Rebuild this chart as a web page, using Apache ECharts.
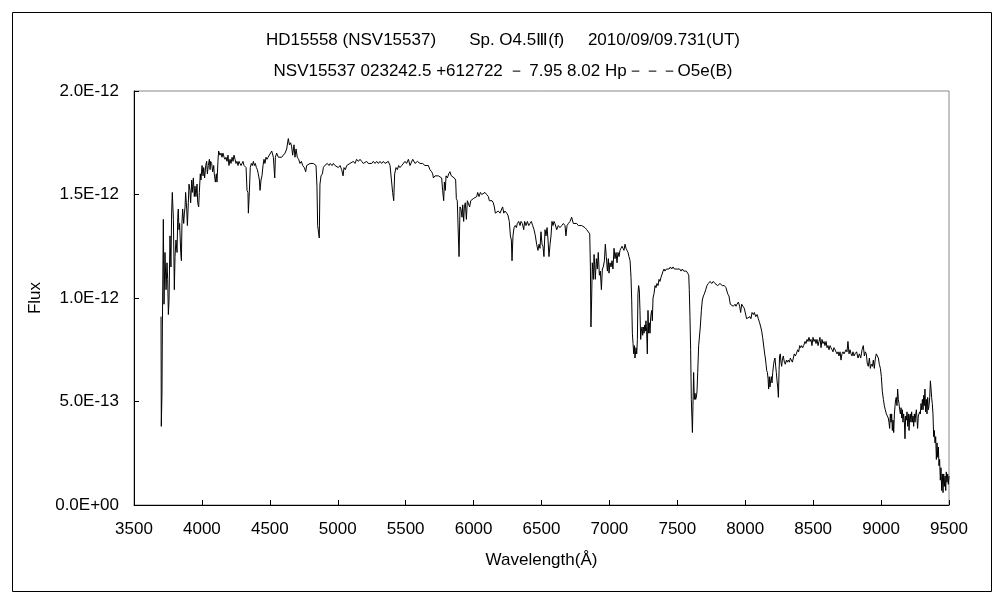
<!DOCTYPE html>
<html><head><meta charset="utf-8">
<script src="https://cdn.jsdelivr.net/npm/echarts@6/dist/echarts.min.js"></script>
<style>html,body{margin:0;padding:0;background:#fff}#c{width:1000px;height:600px}</style>
</head><body><div id="c"></div>
<script>
const titleLine1 = "HD15558 (NSV15537)       Sp. O4.5Ⅲ(f)     2010/09/09.731(UT)";
const titleLine2 = "NSV15537 023242.5 +612722 － 7.95 8.02 Hp－－－O5e(B)";
const xAxisName = "Wavelength(Å)";
const yAxisName = "Flux";
const xTicks = [3500,4000,4500,5000,5500,6000,6500,7000,7500,8000,8500,9000,9500];
const yTicks = [0, 0.5, 1.0, 1.5, 2.0]; // in units of 1E-12

// Wavelength (Å)
const wavelength = [
3699,3701,3706,3709,3716,3721,3728,3736,3743,3748,3753,3758,3765,3772,3777,3782,3790,3797,3802,3809,3817,3822,3826,3831,3836,3844,3849,3853,3858,3866,3871,3876,3880,3888,3893,3900,3905,3912,3917,3925,3929,3937,3944,3949,3956,3964,3969,3976,3981,3988,3993,4001,4008,4013,4020,4028,4035,4040,4047,4055,4060,4064,4072,4079,4087,4091,4099,4106,4111,4118,4123,4133,4141,4148,4155,4163,4170,4177,4185,4192,4199,4207,4214,4222,4229,4236,4244,4251,4258,4266,4273,4280,4288,4295,4302,4310,4317,4325,4332,4339,4342,4349,4356,4364,4371,4379,4386,4393,4401,4408,4415,4423,4428,4435,4442,4450,4457,4464,4472,4479,4487,4494,
4501,4514,4526,4536,4541,4550,4563,4575,4587,4599,4612,4624,4636,4644,4653,4661,4668,4678,4685,4693,4702,4712,4722,4732,4742,4754,4764,4771,4783,4796,4808,4820,4833,4840,4847,4852,4860,4864,4869,4877,4887,4894,4904,4914,4923,4936,4945,4958,4968,4980,4992,5004,5017,5029,5039,5046,5056,5066,5078,5090,5102,5115,5127,5139,5152,5164,5176,5188,5201,5213,5225,5237,5250,5262,5274,5287,5299,5311,5323,5336,5348,5360,5372,5385,5397,5404,5412,5419,5429,5439,5448,5458,5471,5483,5495,5507,5520,
5532,5552,5569,5586,5606,5625,5642,5655,5667,5679,5691,5699,5704,5716,5728,5741,5753,5765,5772,5780,5785,5792,5797,5807,5817,5826,5836,5846,5858,5868,5873,5880,5888,5893,5900,5907,5915,5920,5927,5932,5939,5947,5954,5964,5971,5979,5988,5998,6010,6023,6030,6040,6050,6060,6072,6084,6096,6109,6116,6126,6136,6145,6153,6160,6170,6182,6195,6207,6214,6222,6231,6244,6253,6263,6271,6278,6283,6290,6298,6307,6315,6322,6332,6342,6349,6359,6369,6376,6386,6396,6406,6415,6425,6435,6445,6455,6464,6474,6482,6489,6496,6504,6511,6518,6526,6533,6541,6548,6555,6563,6570,6577,6585,6592,
6599,6612,6624,6636,6649,6661,6673,6680,6688,6698,6710,6722,6734,6747,6759,6771,6783,6796,6808,6820,6833,6845,6855,6860,6864,6869,6874,6882,6887,6891,6896,6904,6911,6918,6926,6933,6941,6948,6955,6963,6970,6977,6985,6992,6997,7004,7012,7019,7026,7034,7041,7049,7056,7063,7071,7078,7085,7093,7100,7107,7115,7122,7130,7137,7144,7152,7159,7164,7169,7174,7179,7184,7188,7196,7201,7206,7210,7215,7220,7225,7230,7235,7240,7245,7250,7255,7260,7264,7269,7274,7279,7284,7289,7294,7299,7304,7311,7316,7321,7328,7336,7343,7350,7358,7365,7372,7380,7387,7395,7402,7409,7419,7429,7439,7449,7458,7468,7478,7488,7498,7507,7517,7527,7537,7547,7557,7566,7576,7584,7588,7593,7598,7603,7608,7611,7615,7620,7625,7630,7635,7640,7645,7650,7657,7662,7669,7677,7684,7692,7699,7709,7718,7728,7741,7753,7765,
7777,7797,7814,7831,7846,7858,7871,7880,7890,7900,7912,7925,7932,7939,7949,7959,7966,7974,7983,7993,8003,8010,8023,8035,8042,8050,8060,8067,8077,8087,8096,8106,8114,8121,8128,8136,8143,8148,8153,8158,8163,8168,8172,8177,8182,8187,8192,8197,8202,8209,8214,8219,8224,8229,8234,8239,8244,8249,8253,8258,8263,8268,8273,8280,8288,8295,8303,8310,8317,8325,8332,8339,8347,8354,8361,8369,8376,8386,8393,8401,8408,8415,8423,8430,8440,8447,8455,8462,8469,8477,8484,8491,8499,8506,8514,8521,8528,8536,8543,8550,8558,8565,8572,8580,8587,8595,8602,8609,8617,8624,8631,8639,8646,8653,8661,8668,8676,8683,8690,8698,8705,8712,8720,8727,8734,8742,8749,8756,8764,8771,8779,8786,8793,8801,
8808,8820,8830,8840,8850,8860,8869,8877,8884,8891,8899,8906,8914,8921,8928,8936,8943,8950,8958,8965,8972,8980,8987,8995,9002,9009,9017,9024,9031,9039,9046,9053,9058,9063,9068,9073,9078,9083,9088,9093,9098,9103,9107,9112,9117,9122,9127,9132,9137,9142,9147,9152,9157,9161,9166,9171,9176,9181,9186,9191,9196,9201,9206,9211,9215,9220,9225,9230,9235,9240,9245,9250,9255,9260,9264,9269,9274,9279,9284,9289,9294,9299,9304,9309,9314,9318,9323,9328,9333,9338,9343,9348,9353,9358,9363,9368,9372,9377,9382,9387,9392,9397,9402,9407,9412,9417,9422,9426,9431,9436,9441,9446,9451,9456,9461,9466,9471,9476,9480,9485,9490,9495,9500
];

// Flux in units of 1E-12
const flux = [
0.91,0.38,0.54,0.86,1.38,0.97,1.22,1.04,1.17,1.09,0.92,0.99,1.30,1.15,1.41,1.51,1.38,1.04,1.20,1.28,1.22,1.39,1.43,1.33,1.36,1.22,1.18,1.36,1.43,1.36,1.41,1.44,1.51,1.43,1.35,1.46,1.55,1.52,1.46,1.57,1.51,1.58,1.49,1.54,1.49,1.55,1.46,1.44,1.51,1.60,1.57,1.64,1.59,1.63,1.58,1.64,1.66,1.60,1.64,1.67,1.62,1.66,1.65,1.61,1.64,1.60,1.56,1.60,1.56,1.66,1.71,1.69,1.70,1.68,1.70,1.68,1.67,1.68,1.66,1.69,1.64,1.67,1.65,1.68,1.66,1.69,1.67,1.65,1.66,1.64,1.66,1.65,1.64,1.65,1.66,1.64,1.64,1.63,1.52,1.51,1.41,1.51,1.63,1.65,1.64,1.66,1.64,1.65,1.63,1.62,1.60,1.57,1.52,1.57,1.59,1.64,1.67,1.65,1.68,1.67,1.68,1.68,
1.68,1.71,1.68,1.58,1.68,1.70,1.68,1.68,1.68,1.68,1.70,1.72,1.77,1.74,1.75,1.73,1.69,1.74,1.68,1.72,1.68,1.67,1.65,1.66,1.64,1.63,1.61,1.64,1.64,1.65,1.65,1.65,1.65,1.64,1.54,1.35,1.35,1.29,1.55,1.59,1.60,1.63,1.64,1.64,1.65,1.64,1.65,1.64,1.65,1.64,1.64,1.63,1.64,1.62,1.59,1.63,1.62,1.64,1.64,1.65,1.65,1.66,1.65,1.67,1.66,1.67,1.66,1.65,1.65,1.66,1.65,1.65,1.65,1.66,1.65,1.66,1.65,1.66,1.65,1.66,1.65,1.65,1.66,1.64,1.64,1.51,1.47,1.60,1.63,1.62,1.64,1.63,1.64,1.64,1.66,1.65,1.67,
1.64,1.67,1.65,1.66,1.65,1.65,1.64,1.64,1.64,1.62,1.61,1.60,1.58,1.59,1.59,1.59,1.59,1.58,1.52,1.47,1.56,1.52,1.59,1.58,1.60,1.61,1.59,1.59,1.58,1.57,1.48,1.47,1.30,1.20,1.44,1.43,1.39,1.45,1.37,1.44,1.46,1.38,1.47,1.47,1.44,1.47,1.47,1.48,1.48,1.49,1.51,1.49,1.51,1.50,1.50,1.51,1.50,1.49,1.47,1.47,1.47,1.46,1.44,1.41,1.41,1.42,1.41,1.43,1.44,1.41,1.42,1.41,1.40,1.37,1.30,1.28,1.18,1.30,1.34,1.35,1.34,1.36,1.37,1.35,1.37,1.36,1.33,1.37,1.35,1.37,1.35,1.36,1.37,1.35,1.33,1.30,1.26,1.23,1.26,1.24,1.32,1.26,1.25,1.20,1.33,1.30,1.34,1.28,1.20,1.26,1.30,1.37,1.35,1.37,
1.36,1.33,1.35,1.34,1.35,1.36,1.35,1.30,1.35,1.36,1.37,1.39,1.36,1.36,1.36,1.35,1.35,1.35,1.35,1.34,1.33,1.33,1.31,1.15,0.86,0.99,1.17,1.09,1.21,1.16,1.09,1.19,1.14,1.22,1.11,1.13,1.04,1.14,1.15,1.18,1.26,1.20,1.13,1.19,1.12,1.17,1.15,1.18,1.14,1.24,1.19,1.22,1.17,1.22,1.20,1.23,1.24,1.25,1.24,1.23,1.26,1.24,1.23,1.22,1.20,1.18,1.10,0.99,0.83,0.78,0.73,0.77,0.71,0.76,0.73,0.80,1.02,1.06,1.04,0.94,0.80,0.84,0.86,0.82,0.86,0.83,0.87,0.84,0.89,0.84,0.73,0.94,0.83,0.88,0.83,0.91,0.94,0.89,1.00,1.02,1.06,1.05,1.07,1.06,1.09,1.08,1.10,1.10,1.13,1.14,1.13,1.14,1.14,1.14,1.15,1.14,1.15,1.14,1.14,1.14,1.14,1.14,1.13,1.14,1.13,1.13,1.13,1.12,1.11,1.04,0.91,0.75,0.51,0.41,0.35,0.48,0.64,0.51,0.54,0.51,0.52,0.55,0.64,0.77,0.77,0.86,0.94,0.99,1.01,1.02,1.04,1.06,1.07,1.08,1.07,1.08,
1.07,1.06,1.07,1.06,1.06,1.05,1.02,1.01,0.97,0.97,0.96,0.97,0.96,0.97,0.98,0.96,0.93,0.97,0.96,0.95,0.95,0.90,0.90,0.91,0.90,0.93,0.92,0.93,0.91,0.92,0.90,0.88,0.86,0.84,0.81,0.81,0.73,0.71,0.68,0.65,0.64,0.61,0.56,0.62,0.57,0.60,0.62,0.59,0.64,0.68,0.70,0.71,0.67,0.64,0.60,0.57,0.52,0.65,0.72,0.73,0.69,0.67,0.70,0.72,0.69,0.68,0.70,0.69,0.70,0.69,0.71,0.70,0.69,0.71,0.73,0.72,0.73,0.75,0.74,0.77,0.76,0.77,0.76,0.77,0.79,0.78,0.80,0.79,0.81,0.79,0.80,0.77,0.81,0.79,0.80,0.78,0.80,0.77,0.79,0.81,0.76,0.80,0.78,0.79,0.77,0.79,0.76,0.77,0.75,0.77,0.76,0.75,0.74,0.76,0.75,0.74,0.73,0.74,0.72,0.74,0.70,0.73,0.74,0.73,0.73,0.75,0.74,0.79,0.73,0.75,0.73,0.72,0.74,0.72,
0.73,0.74,0.71,0.73,0.71,0.75,0.77,0.72,0.74,0.73,0.68,0.67,0.71,0.66,0.68,0.67,0.70,0.66,0.71,0.73,0.73,0.71,0.68,0.66,0.62,0.55,0.51,0.48,0.46,0.44,0.43,0.42,0.40,0.37,0.44,0.40,0.44,0.36,0.41,0.35,0.44,0.48,0.51,0.52,0.48,0.56,0.51,0.49,0.46,0.44,0.47,0.42,0.46,0.40,0.44,0.41,0.32,0.43,0.41,0.45,0.38,0.44,0.36,0.43,0.44,0.40,0.45,0.40,0.43,0.38,0.44,0.40,0.44,0.46,0.42,0.37,0.43,0.44,0.45,0.44,0.49,0.46,0.51,0.46,0.53,0.48,0.56,0.45,0.51,0.44,0.52,0.46,0.48,0.52,0.60,0.56,0.52,0.49,0.44,0.33,0.36,0.30,0.33,0.22,0.30,0.23,0.28,0.19,0.22,0.12,0.18,0.07,0.15,0.06,0.15,0.09,0.14,0.07,0.16,0.11,0.15,0.10,0.14
];

const seriesData = wavelength.map((w, i) => [w, flux[i]]);

function fmtE(v) {
  const val = v * 1e-12;
  const parts = val.toExponential(1).split('e');
  const sign = parts[1][0];
  const d = parts[1].slice(1).padStart(2, '0');
  return parts[0] + 'E' + sign + d;
}

const FONT = "'Liberation Sans', Arial, sans-serif";
const chart = echarts.init(document.getElementById('c'), null, {renderer: 'canvas'});
chart.setOption({
  backgroundColor: '#fff',
  animation: false,
  title: [
    {text: titleLine1, left: 498, top: 27, textAlign: 'center',
     textStyle: {fontSize: 17, fontWeight: 'normal', color: '#000', fontFamily: FONT}},
    {text: titleLine2, left: 498, top: 58, textAlign: 'center',
     textStyle: {fontSize: 17, fontWeight: 'normal', color: '#000', fontFamily: FONT}}
  ],
  graphic: [{
    type: 'rect', left: 10, top: 10, z: 0, silent: true,
    shape: {width: 979, height: 579},
    style: {fill: 'none', stroke: '#000', lineWidth: 1}
  }],
  grid: {left: 134, right: 51, top: 91, bottom: 95, show: true, borderColor: '#888', borderWidth: 1, backgroundColor: 'transparent'},
  xAxis: {
    type: 'value', min: xTicks[0], max: xTicks[xTicks.length - 1], interval: 500,
    name: xAxisName, nameLocation: 'middle', nameGap: 47,
    nameTextStyle: {fontSize: 17, color: '#000', fontFamily: FONT},
    axisLine: {show: true, onZero: false, lineStyle: {color: '#000', width: 1}},
    axisTick: {show: true, inside: true, length: 5, lineStyle: {color: '#000'}},
    axisLabel: {fontSize: 17, color: '#000', margin: 16, fontFamily: FONT, showMinLabel: true, showMaxLabel: true,
      formatter: v => String(v)},
    splitLine: {show: false}
  },
  yAxis: {
    type: 'value', min: yTicks[0], max: yTicks[yTicks.length - 1], interval: 0.5,
    name: yAxisName, nameLocation: 'middle', nameGap: 86, nameRotate: 90,
    nameTextStyle: {fontSize: 17, color: '#000', fontFamily: FONT},
    axisLine: {show: true, onZero: false, lineStyle: {color: '#000', width: 1}},
    axisTick: {show: true, inside: true, length: 5, lineStyle: {color: '#000'}},
    axisLabel: {fontSize: 17, color: '#000', margin: 15, fontFamily: FONT, formatter: fmtE},
    splitLine: {show: false}
  },
  series: [{
    type: 'line', data: seriesData, showSymbol: false, symbol: 'none',
    lineStyle: {color: '#000', width: 1}, itemStyle: {color: '#000'},
    silent: true, clip: true
  }]
});
</script></body></html>
